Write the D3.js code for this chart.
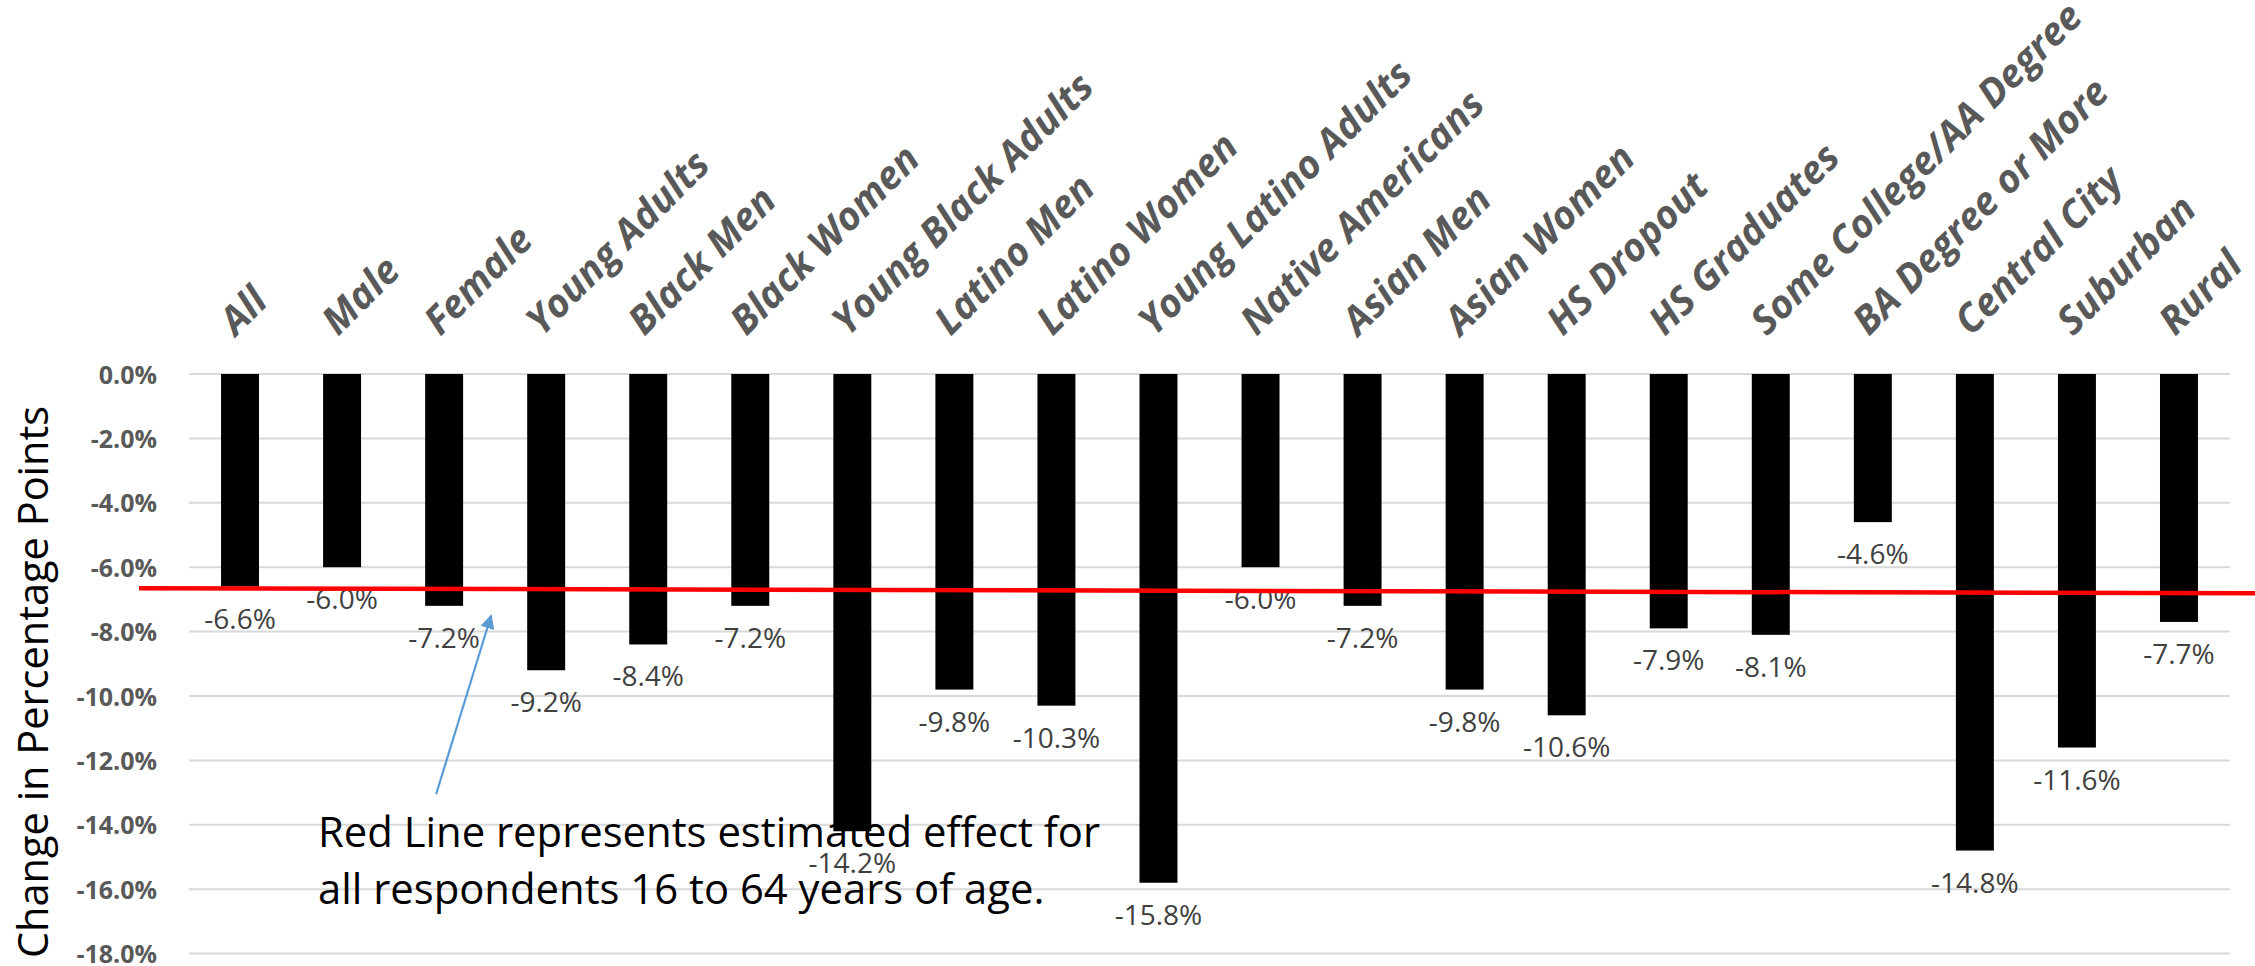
<!DOCTYPE html>
<html>
<head>
<meta charset="utf-8">
<script src="https://cdn.jsdelivr.net/npm/d3@7"></script>
<style>
  html, body { margin: 0; padding: 0; background: #fff; }
  svg { display: block; }
  text { font-family: "Open Sans", "Noto Sans", sans-serif; }
</style>
</head>
<body>
<svg id="chart"></svg>
<script>
// Change in employment rate by group (percentage points)
const categories = [
  "All", "Male", "Female", "Young Adults", "Black Men", "Black Women",
  "Young Black Adults", "Latino Men", "Latino Women", "Young Latino Adults",
  "Native Americans", "Asian Men", "Asian Women", "HS Dropout", "HS Graduates",
  "Some College/AA Degree", "BA Degree or More", "Central City", "Suburban", "Rural"
];
const values = [
  -6.6, -6.0, -7.2, -9.2, -8.4, -7.2,
  -14.2, -9.8, -10.3, -15.8,
  -6.0, -7.2, -9.8, -10.6, -7.9,
  -8.1, -4.6, -14.8, -11.6, -7.7
];
const yTicks = [0, -2, -4, -6, -8, -10, -12, -14, -16, -18];
// estimated effect for all respondents (hand-drawn reference line, left and right ends)
const refLine = [-6.65, -6.81];
const yTitle = "Change in Percentage Points";
const note = ["Red Line represents estimated effect for", "all respondents 16 to 64 years of age."];

const W = 2255, H = 966;
const plot = { left: 189, right: 2230, top: 374, bottom: 953.6 };

const svg = d3.select("#chart").attr("width", W).attr("height", H);
svg.append("rect").attr("width", W).attr("height", H).attr("fill", "#fff");

const x = d3.scaleBand()
  .domain(categories)
  .range([plot.left, plot.right])
  .paddingInner(0.628)
  .paddingOuter(0.314);

const y = d3.scaleLinear()
  .domain([0, -18])
  .range([plot.top, plot.bottom]);

const fmt = v => v.toFixed(1) + "%";

// gridlines
svg.append("g")
  .selectAll("line")
  .data(yTicks)
  .join("line")
  .attr("x1", plot.left).attr("x2", plot.right)
  .attr("y1", d => y(d)).attr("y2", d => y(d))
  .attr("stroke", "#d9d9d9")
  .attr("stroke-width", 2);

// y axis tick labels
const yAxis = d3.axisLeft(y).tickValues(yTicks).tickFormat(fmt).tickSize(0).tickPadding(0);
const yg = svg.append("g").attr("transform", `translate(157,0)`).call(yAxis);
yg.select(".domain").remove();
yg.selectAll("text")
  .attr("font-family", "'Open Sans', sans-serif")
  .attr("font-size", 25)
  .attr("font-weight", 700)
  .attr("fill", "#595959")
  .attr("dy", "0.36em");

// y axis title
svg.append("text")
  .attr("transform", `translate(48,682) rotate(-90)`)
  .attr("text-anchor", "middle")
  .attr("font-size", 41.5)
  .attr("fill", "#000")
  .text(yTitle);

// bars
svg.append("g")
  .selectAll("rect")
  .data(categories)
  .join("rect")
  .attr("x", d => x(d))
  .attr("width", x.bandwidth())
  .attr("y", y(0))
  .attr("height", (d, i) => y(values[i]) - y(0))
  .attr("fill", "#000");

// category labels above the zero line
svg.append("g")
  .selectAll("text")
  .data(categories)
  .join("text")
  .attr("transform", d => `translate(${x(d) + x.bandwidth() / 2 - 4},337) rotate(-45)`)
  .attr("text-anchor", "start")
  .attr("font-size", 39)
  .attr("font-weight", 700)
  .attr("font-style", "italic")
  .attr("fill", "#595959")
  .text(d => d);

// value labels below bar ends
svg.append("g")
  .selectAll("text")
  .data(categories)
  .join("text")
  .attr("x", d => x(d) + x.bandwidth() / 2)
  .attr("y", (d, i) => y(values[i]) + 42)
  .attr("text-anchor", "middle")
  .attr("font-size", 28)
  .attr("fill", "#404040")
  .text((d, i) => fmt(values[i]));

// red reference line
svg.append("line")
  .attr("x1", plot.left - 50).attr("x2", W)
  .attr("y1", y(refLine[0])).attr("y2", y(refLine[1]))
  .attr("stroke", "#ff0000")
  .attr("stroke-width", 4.5);

// annotation arrow pointing at the reference line
const defs = svg.append("defs");
defs.append("marker")
  .attr("id", "arrowhead")
  .attr("viewBox", "0 0 10 10")
  .attr("refX", 9).attr("refY", 5)
  .attr("markerWidth", 7).attr("markerHeight", 6.5)
  .attr("markerUnits", "strokeWidth")
  .attr("orient", "auto")
  .append("path")
  .attr("d", "M0,0 L10,5 L0,10 Z")
  .attr("fill", "#5b9bd5");

const tipX = (x("Female") + x("Young Adults") + x.bandwidth()) / 2 - 4;
const tailX = x("Female") + x.bandwidth() / 2 - 8;
svg.append("line")
  .attr("x1", tailX).attr("y1", y(-13.05))
  .attr("x2", tipX).attr("y2", y(-7.5))
  .attr("stroke", "#5b9bd5")
  .attr("stroke-width", 2.2)
  .attr("marker-end", "url(#arrowhead)");

// annotation text
svg.append("g")
  .selectAll("text")
  .data(note)
  .join("text")
  .attr("x", 318)
  .attr("y", (d, i) => 847 + i * 56.6)
  .attr("font-size", 41.8)
  .attr("fill", "#000")
  .text(d => d);
</script>
</body>
</html>
